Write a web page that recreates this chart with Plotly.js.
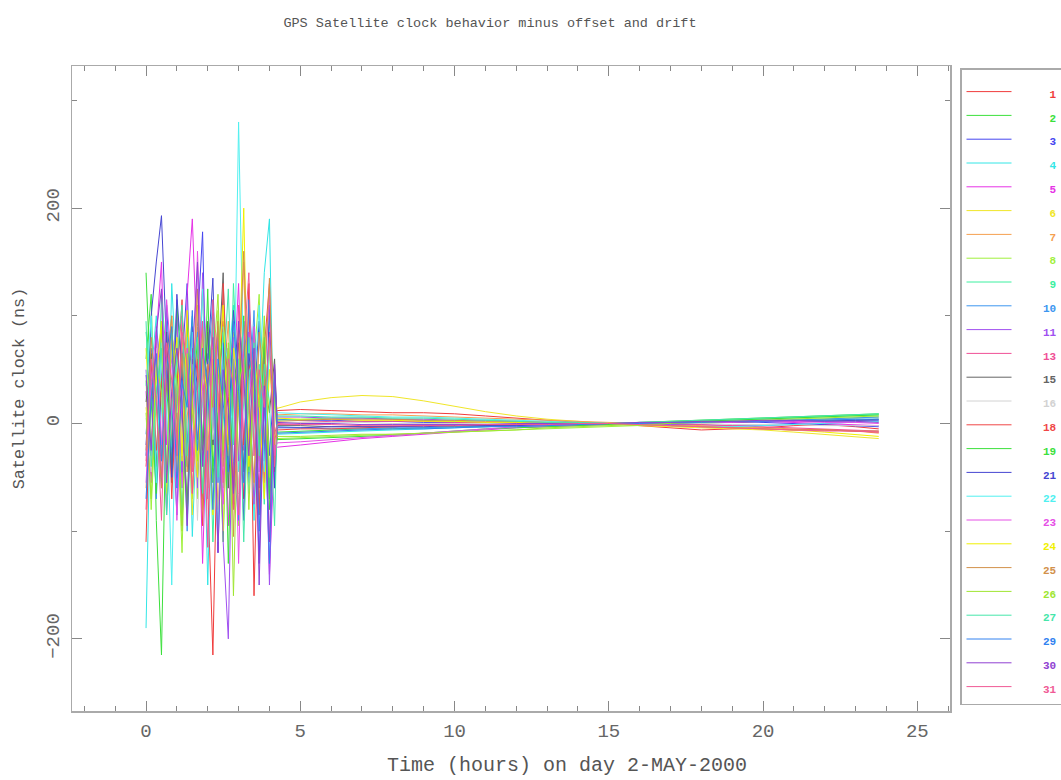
<!DOCTYPE html>
<html><head><meta charset="utf-8">
<script src="https://cdn.plot.ly/plotly-3.0.1.min.js"></script>
<style>html,body{margin:0;padding:0;background:#fff}</style>
</head><body><div id="chart" style="width:1061px;height:780px"></div>
<script>
// Time of each sample (hours on day 2-MAY-2000)
const timeHours = [0, 0.167, 0.333, 0.5, 0.667, 0.833, 1, 1.167, 1.333, 1.5, 1.667, 1.833, 2, 2.167, 2.333, 2.5, 2.667, 2.833, 3, 3.167, 3.333, 3.5, 3.667, 3.833, 4, 4.167,
  4.25, 5, 6, 7, 8, 9, 10, 11, 12, 13, 14, 15, 16, 17, 18, 19, 20, 21, 22, 23, 23.75];

const satellites = ['1','2','3','4','5','6','7','8','9','10','11','13','15','16','18','19','21','22','23','24','25','26','27','29','30','31'];
const lineColors = ['#f03c3c','#3ce03c','#4646f0','#32e6e6','#e632e6','#f0e628','#f5a050','#a0f03c','#3cf0a0','#3c96f0','#a050f0','#f05096','#646464','#d2d2d2',
  '#f04646','#3ce03c','#4646d2','#50f0f0','#e650e6','#f0f000','#d2914b','#a0e632','#46e6aa','#3282f0','#9141d2','#f05a96'];

// Satellite clock minus offset and drift (ns)
const sv1  = [-40, 25, 60, -30, 85, -20, 10, -95, 40, 70, -15, 30, -60, -215, 20, 95, -45, 60, 15, -70, 130, -160, 40, -25, 80, 10,
  12, 13, 12, 11, 10, 10, 9, 7, 5, 3, 1, 0, -2, -4, -6, -5, -4, -2, -1, -3, -5];
const sv2  = [60, 120, -90, -215, 40, 75, -50, 15, 100, -70, 35, -25, 85, -40, 10, -110, 55, 20, -65, 45, -20, 90, -35, 65, -80, 30,
  -8, -7, -6, -5, -5, -4, -3, -3, -2, -2, -1, 0, 1, 2, 3, 4, 5, 6, 7, 8, 9];
const sv3  = [-20, 70, 30, -60, 110, 20, -85, 55, 130, -30, 90, 178, -45, 35, -120, 60, 10, -75, 40, 95, -55, 25, -130, 70, -30, 45,
  4, 3, 3, 2, 2, 1, 1, 0, 0, 0, 0, 0, 1, 1, 2, 2, 1, 0, -1, -2, -3];
const sv4  = [-190, 45, 100, 20, -70, 130, 35, -40, 80, -105, 15, 60, -150, 40, 85, -30, 50, 110, -45, 20, 70, -90, 25, 140, 190, -60,
  -10, -9, -8, -7, -6, -5, -4, -3, -2, -2, -1, 0, 0, 1, 1, 2, 2, 3, 3, 4, 4];
const sv5  = [30, -55, 80, 150, -20, 40, 95, -60, 120, 190, 60, -130, 25, 90, -40, 70, -95, 35, 130, -25, 85, 10, -60, 45, -140, -20,
  -22, -20, -17, -14, -12, -10, -8, -6, -4, -3, -2, -1, 0, 1, 1, 2, 2, 1, 0, -1, -2];
const sv6  = [15, -35, 55, 90, -75, 25, 60, -20, 45, -85, 110, 30, -55, 70, 15, -100, 40, 85, -30, 55, 20, -70, 95, -15, 50, 25,
  14, 20, 24, 26, 25, 21, 16, 11, 7, 4, 2, 0, -2, -3, -4, -5, -6, -8, -10, -12, -14];
const sv7  = [-60, 20, 75, -30, 50, 100, -45, 80, 15, -65, 40, 125, -25, 60, -80, 30, 95, -50, 20, 150, -35, 65, -15, 90, -55, 35,
  8, 9, 9, 8, 8, 7, 6, 5, 4, 3, 2, 1, 0, -1, -2, -3, -4, -5, -6, -7, -9];
const sv8  = [40, -80, 25, 65, -40, 90, 10, -120, 55, 30, -70, 85, 45, -30, 105, -60, 20, 75, -95, 40, -45, 60, 120, -25, 70, -35,
  -14, -13, -12, -11, -10, -9, -8, -7, -6, -5, -4, -3, -2, -1, 0, 1, 2, 3, 4, 5, 6];
const sv9  = [85, 30, -45, 120, 60, -25, 75, -90, 35, 100, -50, 20, 65, -110, 45, 10, -60, 130, 25, -40, 80, -20, 55, -75, 100, 15,
  3, 4, 5, 5, 4, 3, 2, 1, 1, 0, 0, 0, 0, 1, 2, 3, 4, 5, 6, 7, 8];
const sv10 = [-10, 55, -70, 35, 95, -40, 20, 65, -100, 40, 85, -20, 50, 115, -55, 30, 70, -35, -90, 60, 15, 105, -45, 25, -65, 40,
  -3, -4, -5, -5, -4, -4, -3, -3, -2, -2, -1, -1, 0, 0, 1, 1, 2, 3, 4, 5, 6];
const sv11 = [50, -30, 90, 45, -85, 20, 115, -45, 70, 10, -60, 140, 35, -20, 80, -110, -200, 55, -35, 95, 40, -75, 20, 60, -150, 30,
  6, 6, 5, 5, 4, 4, 3, 3, 2, 1, 1, 0, 0, -1, -1, -2, -2, -1, 0, 1, 2];
const sv13 = [-80, 35, 60, -50, 20, 85, -30, 100, 45, -65, 25, 70, -115, 40, 90, -25, 55, -80, 110, 30, -45, 75, 15, -55, 85, -10,
  0, 1, 2, 2, 2, 2, 1, 1, 1, 0, 0, 0, 0, 0, -1, -2, -3, -4, -5, -6, -7];
const sv15 = [20, 65, -40, 30, 85, -55, 45, 10, -75, 60, 25, -35, 95, -20, 50, 140, -60, 30, 75, -45, 20, 55, -85, 40, 10, 60,
  -2, -2, -3, -3, -3, -2, -2, -2, -1, -1, -1, 0, 0, 1, 1, 1, 2, 2, 3, 3, 4];
const sv16 = [5, -45, 70, 25, -60, 40, 80, -30, 15, 55, -90, 35, 60, -15, 45, -50, 25, 70, -65, 10, 40, -30, 85, 20, -40, 15,
  1, 1, 1, 1, 0, 0, 0, 0, 0, 0, 0, 0, 0, 0, 0, -1, -1, -1, -2, -2, -2];
const sv18 = [-110, 60, -25, 40, 75, -70, 35, 115, -40, 20, 60, -95, 45, 85, -30, 130, 25, -60, 90, -20, 55, 35, -85, 70, 130, -45,
  -6, -5, -5, -4, -3, -2, -2, -1, -1, 0, 0, 0, -1, -2, -3, -4, -5, -6, -6, -7, -8];
const sv19 = [140, 20, -65, 90, 35, -40, 110, 50, -85, 30, 75, -20, 125, -55, 40, 85, -130, 60, 20, 100, -45, 55, -25, 80, -70, 40,
  -15, -14, -13, -12, -11, -9, -7, -5, -4, -3, -2, -1, 0, 1, 2, 3, 4, 5, 6, 7, 8];
const sv21 = [-30, 100, 150, 193, 70, -50, 120, 45, -25, 90, 30, -70, 60, 135, -40, 75, -20, 105, 50, -90, 65, 20, 95, -35, 110, -60,
  -4, -4, -3, -3, -3, -3, -2, -2, -2, -1, -1, 0, 0, 0, 1, 1, 2, 2, 2, 3, 3];
const sv22 = [35, 100, -55, 75, 20, -150, 60, 30, -40, 85, 10, 125, -70, 45, -110, 90, 50, -20, 280, 40, -65, 30, 110, -45, 75, 20,
  10, 9, 8, 7, 6, 6, 5, 4, 3, 2, 1, 0, -1, -2, -3, -3, -2, -1, 0, 1, 2];
const sv23 = [-55, 40, 85, -20, 115, 55, -90, 25, 70, -40, 160, 30, -60, 95, 20, -75, 45, 80, -130, 55, 10, 90, -45, 35, 120, -30,
  -18, -17, -15, -13, -11, -9, -7, -5, -3, -2, -1, 0, 0, 1, 1, 1, 2, 2, 1, 1, 0];
const sv24 = [70, -20, 40, 95, -65, 30, 80, -35, 105, 15, -50, 60, 25, -85, 45, 110, -30, 70, 35, 200, -40, 65, 20, -70, 50, 15,
  5, 4, 4, 3, 3, 2, 2, 1, 1, 0, 0, 0, -1, -2, -3, -4, -5, -6, -8, -10, -12];
const sv25 = [-25, 80, 20, -60, 45, 100, -15, 65, -45, 30, 125, -80, 55, 15, 95, -40, 70, -105, 45, 160, 20, -55, 85, 35, 135, -20,
  2, 3, 4, 4, 4, 3, 3, 2, 2, 1, 1, 0, -1, -2, -3, -4, -5, -6, -6, -7, -7];
const sv26 = [10, -70, 55, 30, -45, 85, 40, -100, 65, 20, -35, 90, -60, 50, 120, -25, 75, -160, 35, 60, -80, 45, 15, 100, -50, 25,
  -12, -12, -11, -10, -10, -9, -8, -7, -6, -4, -3, -2, -1, 0, 1, 2, 3, 4, 5, 6, 7];
const sv27 = [95, -40, 30, 70, -85, 15, 60, 110, -30, 45, 80, -65, 20, 100, -50, 35, 125, -20, 60, -110, 40, 75, -30, 55, 20, -95,
  7, 7, 6, 6, 5, 5, 4, 3, 2, 1, 1, 0, 1, 2, 3, 4, 5, 6, 7, 8, 9];
const sv29 = [-70, 25, 65, -35, 50, 90, -60, 40, 15, 105, -25, 70, 35, -80, 60, 20, -45, 95, 30, -55, 115, 45, -100, 20, -130, 50,
  -9, -8, -7, -6, -5, -5, -4, -3, -3, -2, -1, 0, 0, 1, 1, 2, 2, 3, 3, 4, 4];
const sv30 = [45, -25, 85, 125, -55, 30, 70, 20, -95, 60, 150, -40, 35, 80, -120, 50, 15, -65, 95, 40, -30, 70, -150, 35, -110, 55,
  1, 0, 0, -1, -1, -1, -1, -1, 0, 0, 0, 0, 1, 1, 2, 2, 3, 3, 2, 2, 1];
const sv31 = [-35, 60, 20, -90, 75, 40, -20, 85, 55, -45, 30, 95, -70, 115, 25, -55, 60, 35, -85, 70, 140, -30, 50, 15, 80, -40,
  -1, -1, -1, -2, -2, -2, -2, -1, -1, -1, 0, 0, -1, -2, -3, -4, -5, -6, -7, -7, -8];

const clockSeries = [sv1, sv2, sv3, sv4, sv5, sv6, sv7, sv8, sv9, sv10, sv11, sv13, sv15, sv16, sv18, sv19, sv21, sv22, sv23, sv24, sv25, sv26, sv27, sv29, sv30, sv31];

const mono = 'Liberation Mono, DejaVu Sans Mono, monospace';
const NB = '\u00a0';

const traces = satellites.map((prn, i) => ({
  type: 'scatter',
  mode: 'lines',
  x: timeHours,
  y: clockSeries[i],
  name: '<span style="color:' + lineColors[i] + ';font-size:11px;font-weight:bold">' + NB.repeat(6 - prn.length) + prn + '</span>',
  line: {color: lineColors[i], width: 1},
  hoverinfo: 'skip'
}));

const axisCommon = {
  showgrid: false,
  zeroline: false,
  showline: true,
  linecolor: '#aaaaaa',
  linewidth: 1.5,
  mirror: 'ticks',
  ticks: 'inside',
  ticklen: 10,
  tickwidth: 1,
  tickcolor: '#888888',
  tickfont: {family: mono, size: 19, color: '#666666'}
};

const layout = {
  width: 1061,
  height: 780,
  paper_bgcolor: '#ffffff',
  plot_bgcolor: '#ffffff',
  margin: {l: 72, r: 111, t: 66, b: 69, autoexpand: false},
  title: {
    text: 'GPS Satellite clock behavior minus offset and drift',
    font: {family: mono, size: 13.5, color: '#555555'},
    x: (490 - 72) / 878, xanchor: 'center', xref: 'paper',
    y: 1 - 22 / 780, yanchor: 'middle'
  },
  xaxis: Object.assign({}, axisCommon, {
    range: [-2.4, 26.06],
    tick0: 0, dtick: 5,
    minor: {dtick: 1, ticks: 'inside', ticklen: 5, tickcolor: '#888888', tickwidth: 1},
    ticklabelstandoff: 2
  }),
  yaxis: Object.assign({}, axisCommon, {
    range: [-267, 332],
    tick0: 0, dtick: 200,
    tickangle: -90,
    minor: {dtick: 100, ticks: 'inside', ticklen: 5, tickcolor: '#888888', tickwidth: 1},
    ticklabelstandoff: 4,
    title: {text: 'Satellite clock (ns)', font: {family: mono, size: 16.8, color: '#555555'}, standoff: 14}
  }),
  annotations: [{
    text: 'Time (hours) on day 2-MAY-2000',
    xref: 'paper', yref: 'paper',
    x: (567 - 72) / 878, y: -(765 - 711) / 645,
    xanchor: 'center', yanchor: 'middle',
    showarrow: false,
    font: {family: mono, size: 20, color: '#555555'}
  }],
  showlegend: true,
  legend: {
    x: (960 - 72) / 878, xanchor: 'left',
    y: (711 - 68) / 645, yanchor: 'top',
    bgcolor: '#ffffff',
    bordercolor: '#aaaaaa',
    borderwidth: 1.5,
    font: {family: mono, size: 16, color: '#555555'},
    title: {text: NB, font: {size: 4}},
    traceorder: 'normal',
    itemwidth: 45
  },
  hovermode: false
};

Plotly.newPlot('chart', traces, layout, {displayModeBar: false, staticPlot: true});
</script>
</body></html>
